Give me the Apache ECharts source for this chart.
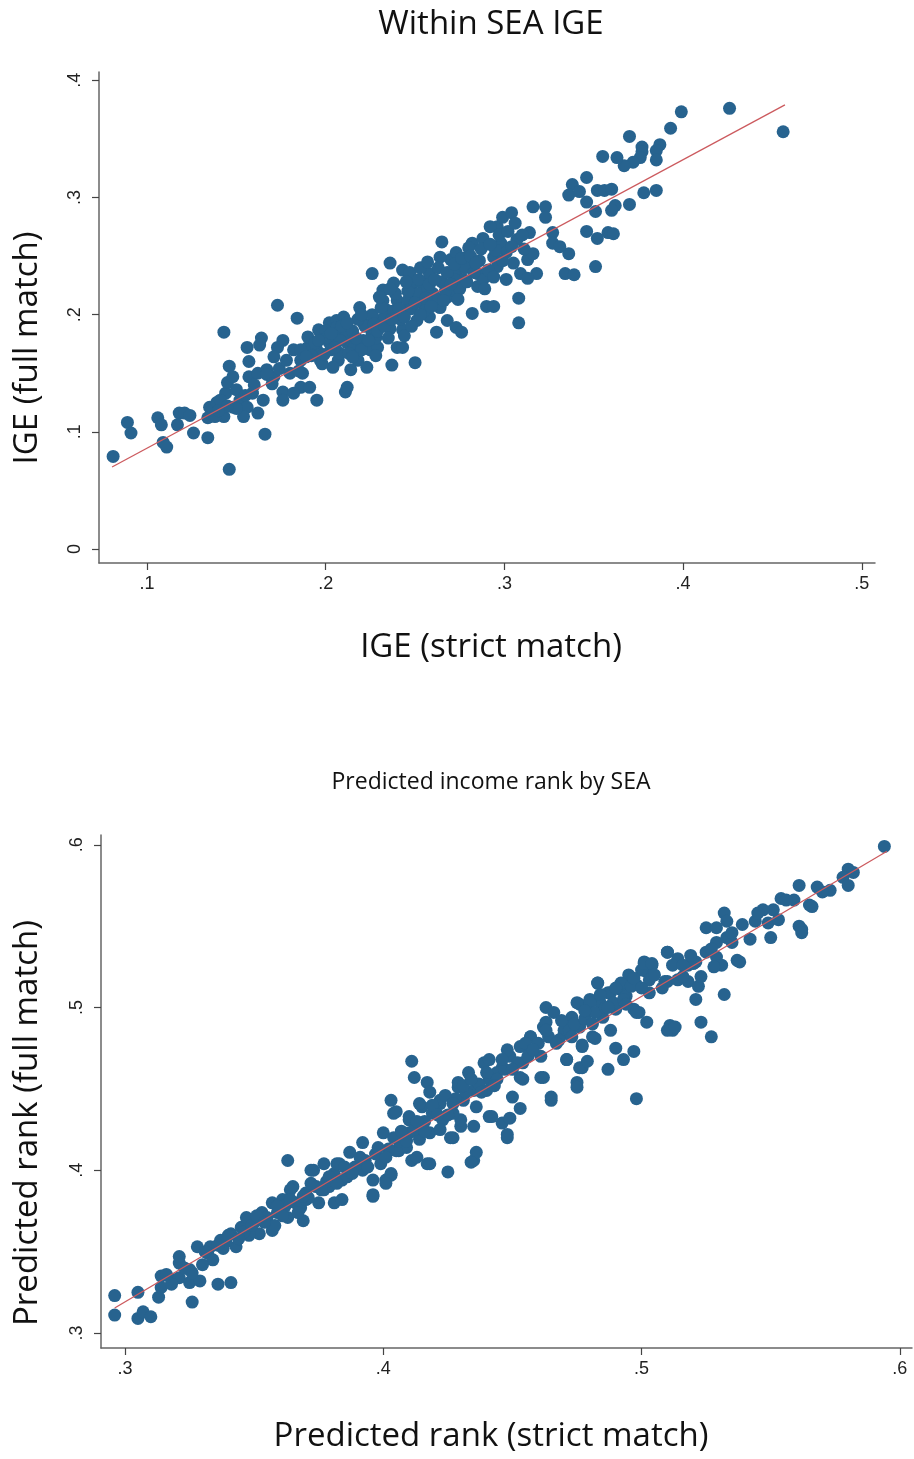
<!DOCTYPE html>
<html>
<head>
<meta charset="utf-8">
<title>SEA IGE scatter</title>
<script src="https://cdn.jsdelivr.net/npm/echarts@6/dist/echarts.min.js"></script>
<style>
  html, body { margin: 0; padding: 0; background: #fff; }
  #main { width: 914px; height: 1459px; }
</style>
</head>
<body>
<div id="main"></div>
<script>
// top panel: IGE, strict vs full match
var igeTicksX = [0.1, 0.2, 0.3, 0.4, 0.5];
var igeTicksY = [0, 0.1, 0.2, 0.3, 0.4];
var igeFit = [[0.0804, 0.070], [0.457, 0.379]];
var igePoints = [
  [0.081,0.079],[0.089,0.108],[0.091,0.099],[0.106,0.112],[0.108,0.106],[0.109,0.091],[0.111,0.087],
  [0.118,0.116],[0.121,0.116],[0.124,0.114],[0.117,0.106],[0.126,0.099],[0.134,0.095],[0.143,0.113],
  [0.146,0.068],[0.166,0.098],[0.173,0.208],[0.184,0.197],[0.143,0.185],[0.164,0.180],[0.163,0.174],
  [0.156,0.172],[0.176,0.178],[0.173,0.172],[0.157,0.160],[0.146,0.156],[0.171,0.164],[0.195,0.127],
  [0.211,0.134],[0.135,0.121],[0.139,0.125],[0.134,0.112],[0.138,0.113],[0.144,0.133],[0.145,0.142],
  [0.148,0.147],[0.150,0.136],[0.152,0.127],[0.156,0.121],[0.162,0.116],[0.165,0.127],[0.159,0.133],
  [0.157,0.147],[0.162,0.150],[0.167,0.153],[0.171,0.147],[0.174,0.154],[0.178,0.161],[0.182,0.170],
  [0.186,0.161],[0.190,0.172],[0.190,0.181],[0.195,0.170],[0.197,0.161],[0.202,0.176],[0.202,0.193],
  [0.206,0.195],[0.208,0.184],[0.212,0.176],[0.207,0.161],[0.212,0.138],[0.176,0.134],[0.176,0.127],
  [0.186,0.138],[0.191,0.138],[0.182,0.133],[0.148,0.121],[0.154,0.113],[0.141,0.127],[0.167,0.149],
  [0.187,0.150],[0.196,0.187],[0.206,0.189],[0.210,0.198],[0.214,0.178],[0.208,0.167],[0.218,0.161],
  [0.225,0.170],[0.226,0.184],[0.221,0.193],[0.230,0.195],[0.234,0.204],[0.232,0.221],[0.238,0.227],
  [0.240,0.212],[0.245,0.204],[0.243,0.187],[0.251,0.195],[0.249,0.227],[0.254,0.227],[0.258,0.235],
  [0.260,0.218],[0.264,0.206],[0.268,0.215],[0.258,0.198],[0.268,0.195],[0.273,0.189],[0.271,0.221],
  [0.273,0.235],[0.270,0.247],[0.273,0.253],[0.279,0.249],[0.281,0.241],[0.285,0.235],[0.277,0.230],
  [0.285,0.224],[0.288,0.230],[0.282,0.261],[0.288,0.265],[0.294,0.249],[0.296,0.241],[0.298,0.261],
  [0.301,0.253],[0.296,0.275],[0.307,0.264],[0.305,0.244],[0.309,0.235],[0.301,0.230],[0.313,0.247],
  [0.236,0.244],[0.243,0.238],[0.226,0.235],[0.232,0.212],[0.249,0.218],[0.221,0.178],[0.229,0.172],
  [0.240,0.172],[0.204,0.155],[0.214,0.153],[0.223,0.155],[0.219,0.206],[0.264,0.249],[0.254,0.210],
  [0.243,0.172],[0.308,0.214],[0.308,0.193],[0.290,0.207],[0.294,0.207],[0.282,0.201],[0.280,0.257],
  [0.265,0.262],[0.299,0.283],[0.304,0.287],[0.292,0.275],[0.237,0.157],[0.250,0.159],[0.276,0.185],
  [0.262,0.185],[0.247,0.236],[0.253,0.240],
  [0.399,0.373],[0.426,0.376],[0.456,0.356],[0.393,0.359],[0.370,0.352],[0.377,0.343],[0.377,0.339],
  [0.387,0.345],[0.385,0.340],[0.385,0.332],[0.376,0.334],[0.372,0.330],[0.367,0.327],[0.363,0.334],
  [0.355,0.335],[0.346,0.317],[0.338,0.311],[0.336,0.302],[0.342,0.305],[0.346,0.296],[0.352,0.306],
  [0.356,0.306],[0.360,0.307],[0.378,0.304],[0.385,0.306],[0.370,0.294],[0.362,0.293],[0.360,0.289],
  [0.351,0.288],[0.346,0.271],[0.352,0.265],[0.358,0.270],[0.361,0.269],[0.351,0.241],[0.336,0.252],
  [0.334,0.235],[0.339,0.234],[0.327,0.270],[0.327,0.261],[0.331,0.258],[0.316,0.292],[0.323,0.292],
  [0.323,0.283],[0.314,0.270],[0.316,0.252],[0.318,0.235],[0.313,0.231],
  [0.192,0.165],[0.198,0.158],[0.203,0.170],[0.212,0.183],[0.216,0.172],[0.222,0.190],[0.228,0.180],
  [0.233,0.198],[0.236,0.188],[0.238,0.203],[0.242,0.196],[0.246,0.212],[0.248,0.205],[0.252,0.218],
  [0.255,0.203],[0.257,0.222],[0.262,0.214],[0.265,0.228],[0.267,0.220],[0.272,0.230],[0.275,0.222],
  [0.278,0.240],[0.283,0.236],[0.286,0.246],[0.291,0.238],[0.295,0.255],[0.226,0.200],[0.231,0.206],
  [0.244,0.182],[0.218,0.196],[0.208,0.178],[0.200,0.186],[0.186,0.170],[0.180,0.150],[0.170,0.141],
  [0.160,0.140],[0.155,0.131],[0.150,0.120],[0.145,0.122],[0.140,0.118],
  [0.185,0.152],[0.189,0.164],[0.194,0.176],[0.199,0.166],[0.201,0.181],[0.205,0.172],[0.209,0.190],
  [0.213,0.167],[0.215,0.186],[0.217,0.180],[0.220,0.170],[0.224,0.178],[0.227,0.192],[0.229,0.186],
  [0.233,0.190],[0.235,0.180],[0.237,0.196],[0.239,0.218],[0.241,0.205],[0.244,0.198],[0.246,0.220],
  [0.248,0.190],[0.250,0.210],[0.252,0.230],[0.253,0.200],[0.256,0.214],[0.258,0.226],[0.259,0.207],
  [0.261,0.230],[0.263,0.240],[0.266,0.212],[0.268,0.236],[0.270,0.226],[0.272,0.243],[0.274,0.213],
  [0.276,0.248],[0.279,0.228],[0.281,0.250],[0.284,0.244],[0.287,0.256],[0.289,0.222],[0.292,0.260],
  [0.294,0.232],[0.297,0.268],[0.299,0.246],[0.302,0.271],[0.304,0.258],[0.306,0.278],[0.310,0.268],
  [0.311,0.256],[0.230,0.215],[0.220,0.200],[0.212,0.193],[0.203,0.184],[0.196,0.178],[0.236,0.222],
  [0.245,0.228],[0.257,0.245],[0.215,0.164],[0.228,0.165]
];

// bottom panel: predicted income rank
var rankTicksX = [0.3, 0.4, 0.5, 0.6];
var rankTicksY = [0.3, 0.4, 0.5, 0.6];
var rankFit = [[0.296, 0.3154], [0.595, 0.596]];
var rankPoints = [
  [0.296,0.323],[0.296,0.311],[0.305,0.309],[0.307,0.313],[0.310,0.310],[0.305,0.325],[0.313,0.322],
  [0.314,0.328],[0.314,0.335],[0.318,0.333],[0.321,0.334],[0.326,0.319],[0.325,0.331],[0.329,0.332],
  [0.336,0.330],[0.341,0.331],[0.321,0.343],[0.321,0.347],[0.325,0.339],[0.328,0.353],[0.332,0.349],
  [0.334,0.345],[0.337,0.357],[0.341,0.361],[0.343,0.353],[0.345,0.365],[0.350,0.368],[0.353,0.374],
  [0.357,0.380],[0.361,0.382],[0.352,0.361],[0.357,0.363],[0.363,0.371],[0.369,0.369],[0.365,0.390],
  [0.370,0.386],[0.373,0.400],[0.363,0.406],[0.377,0.404],[0.381,0.398],[0.381,0.380],[0.375,0.380],
  [0.368,0.377],[0.360,0.374],[0.348,0.360],[0.347,0.371],[0.339,0.356],[0.333,0.353],
  [0.403,0.443],[0.404,0.435],[0.411,0.406],[0.417,0.404],[0.425,0.399],[0.435,0.406],[0.436,0.411],
  [0.396,0.384],[0.401,0.394],[0.403,0.397],[0.396,0.394],[0.406,0.412],[0.409,0.414],[0.414,0.419],
  [0.427,0.420],[0.430,0.427],[0.435,0.427],[0.441,0.433],[0.446,0.429],[0.448,0.420],[0.415,0.439],
  [0.422,0.443],[0.429,0.451],[0.415,0.427],[0.410,0.431],[0.400,0.423],[0.392,0.417],[0.387,0.411],
  [0.383,0.404],[0.372,0.400],[0.364,0.388],[0.359,0.374],[0.384,0.382],[0.399,0.404],[0.392,0.400],
  [0.387,0.398],[0.377,0.388],[0.370,0.382],[0.436,0.439],[0.423,0.431],[0.418,0.423],[0.410,0.423],
  [0.411,0.467],[0.412,0.457],[0.417,0.454],[0.405,0.436],[0.410,0.433],[0.414,0.441],[0.418,0.448],
  [0.422,0.441],[0.429,0.454],[0.433,0.460],[0.435,0.449],[0.430,0.431],[0.426,0.420],[0.422,0.425],
  [0.439,0.466],[0.441,0.456],[0.446,0.463],[0.449,0.470],[0.453,0.476],[0.457,0.482],[0.462,0.488],
  [0.470,0.484],[0.476,0.488],[0.454,0.456],[0.450,0.445],[0.453,0.438],[0.442,0.433],[0.449,0.432],
  [0.448,0.422],[0.462,0.457],[0.465,0.443],[0.471,0.468],[0.475,0.454],[0.477,0.476],[0.477,0.463],
  [0.434,0.405],[0.418,0.404],[0.413,0.408],[0.403,0.398],[0.401,0.392],[0.396,0.385],[0.405,0.412],
  [0.382,0.404],[0.384,0.394],[0.379,0.390],[0.414,0.422],[0.419,0.435],[0.427,0.435],[0.431,0.443],
  [0.594,0.599],[0.580,0.585],[0.582,0.583],[0.578,0.580],[0.580,0.575],[0.573,0.572],[0.570,0.571],
  [0.561,0.575],[0.559,0.566],[0.554,0.567],[0.565,0.563],[0.566,0.562],[0.561,0.550],[0.562,0.548],
  [0.562,0.546],[0.551,0.560],[0.547,0.560],[0.549,0.552],[0.553,0.554],[0.550,0.543],[0.542,0.542],
  [0.539,0.551],[0.544,0.553],[0.532,0.558],[0.533,0.553],[0.525,0.549],[0.529,0.549],[0.529,0.540],
  [0.533,0.543],[0.535,0.540],[0.525,0.534],[0.529,0.531],[0.531,0.526],[0.528,0.525],[0.537,0.529],
  [0.538,0.528],[0.510,0.534],[0.514,0.530],[0.518,0.526],[0.521,0.528],[0.512,0.526],[0.501,0.528],
  [0.504,0.526],[0.502,0.522],[0.500,0.523],[0.495,0.520],[0.496,0.516],[0.498,0.514],[0.503,0.517],
  [0.503,0.509],[0.510,0.516],[0.514,0.517],[0.518,0.516],[0.522,0.513],[0.521,0.505],[0.532,0.508],
  [0.483,0.515],[0.488,0.509],[0.492,0.511],[0.494,0.507],[0.484,0.503],[0.480,0.505],[0.476,0.502],
  [0.473,0.494],[0.479,0.497],[0.485,0.494],[0.497,0.499],[0.499,0.497],[0.502,0.491],[0.511,0.489],
  [0.512,0.486],[0.523,0.491],[0.488,0.486],[0.527,0.482],[0.481,0.482],[0.470,0.491],
  [0.461,0.457],[0.471,0.468],[0.476,0.463],[0.479,0.467],[0.487,0.462],[0.490,0.475],[0.493,0.468],
  [0.497,0.473],[0.510,0.486],[0.513,0.488],[0.475,0.451],[0.477,0.477],[0.482,0.481],[0.465,0.445],
  [0.498,0.444],[0.453,0.457],[0.440,0.449],[0.441,0.468],[0.448,0.474],[0.457,0.482],[0.463,0.491],
  [0.463,0.500],[0.466,0.497],[0.475,0.503],[0.480,0.503],[0.483,0.515],[0.487,0.509],[0.492,0.515],
  [0.496,0.513],[0.501,0.527],[0.504,0.527],[0.510,0.534],[0.520,0.527],[0.523,0.519],[0.516,0.519],
  [0.509,0.516],[0.498,0.497],[0.490,0.499],[0.470,0.486],[0.457,0.474],[0.444,0.460],[0.454,0.466],
  [0.461,0.470],
  [0.355,0.371],[0.358,0.366],[0.362,0.378],[0.366,0.380],[0.371,0.383],[0.374,0.390],[0.378,0.393],
  [0.386,0.396],[0.389,0.402],[0.393,0.406],[0.397,0.410],[0.402,0.413],[0.406,0.418],[0.412,0.425],
  [0.416,0.430],[0.420,0.437],[0.425,0.434],[0.428,0.444],[0.432,0.448],[0.437,0.453],[0.444,0.456],
  [0.447,0.462],[0.452,0.466],[0.456,0.470],[0.460,0.478],[0.464,0.482],[0.468,0.480],[0.472,0.486],
  [0.474,0.490],[0.478,0.493],[0.482,0.497],[0.486,0.500],[0.489,0.503],[0.493,0.505],[0.346,0.362],
  [0.338,0.352],[0.330,0.342],[0.326,0.337],[0.318,0.330],
  [0.316,0.336],[0.323,0.340],[0.331,0.350],[0.336,0.354],[0.340,0.360],[0.344,0.358],[0.349,0.366],
  [0.351,0.372],[0.354,0.368],[0.359,0.378],[0.361,0.372],[0.364,0.382],[0.367,0.374],[0.369,0.384],
  [0.372,0.392],[0.376,0.388],[0.379,0.396],[0.382,0.392],[0.385,0.402],[0.388,0.398],[0.391,0.408],
  [0.394,0.402],[0.398,0.414],[0.401,0.408],[0.404,0.420],[0.407,0.424],[0.409,0.418],[0.413,0.430],
  [0.416,0.424],[0.419,0.440],[0.421,0.434],[0.424,0.446],[0.427,0.441],[0.431,0.452],[0.434,0.456],
  [0.438,0.448],[0.440,0.460],[0.443,0.452],[0.446,0.468],[0.450,0.462],[0.455,0.478],[0.458,0.474],
  [0.463,0.486],[0.467,0.478],[0.469,0.492],[0.473,0.482],[0.478,0.498],[0.481,0.490],[0.484,0.508],
  [0.487,0.500],[0.490,0.512],[0.494,0.502],[0.497,0.518],[0.500,0.512],[0.505,0.520],[0.508,0.512],
  [0.516,0.526],[0.519,0.532],[0.527,0.536],[0.535,0.546],[0.545,0.558],[0.556,0.566],[0.568,0.574]
];

var dotColor = '#27638f';
var fitColor = '#cc5a5e';
var tickFont = 'Liberation Sans, Arial, sans-serif';
var titleFont = 'Open Sans, sans-serif';

function stataLabel(v) {
  if (Math.abs(v) < 1e-9) return '0';
  return (Math.round(v * 10) / 10).toString().replace(/^0/, '');
}

function makeAxis(idx, min, max, ticks, isY) {
  return {
    type: 'value',
    gridIndex: idx,
    min: min,
    max: max,
    splitLine: { show: false },
    axisLine: { show: true, onZero: false, lineStyle: { color: '#666', width: 1.5 } },
    axisTick: { show: true, length: 7, customValues: ticks, lineStyle: { color: '#444', width: 1.2 } },
    axisLabel: {
      customValues: ticks,
      formatter: stataLabel,
      rotate: isY ? 90 : 0,
      margin: isY ? 15 : 12,
      color: '#222',
      fontSize: 18,
      fontFamily: tickFont
    }
  };
}

function label(text, x, y, size, vertical) {
  return {
    type: 'text', x: x, y: y, rotation: vertical ? Math.PI / 2 : 0,
    style: { text: text, font: size + 'px ' + titleFont, fill: '#111', textAlign: 'center', textVerticalAlign: 'middle' }
  };
}

var chart = echarts.init(document.getElementById('main'), null, { renderer: 'canvas' });
chart.setOption({
  animation: false,
  backgroundColor: '#fff',
  grid: [
    { left: 99, top: 72, width: 776, height: 491 },
    { left: 101, top: 835, width: 811, height: 513 }
  ],
  xAxis: [
    makeAxis(0, 0.0731, 0.5074, igeTicksX, false),
    makeAxis(1, 0.2907, 0.6047, rankTicksX, false)
  ],
  yAxis: [
    makeAxis(0, -0.0119, 0.407, igeTicksY, true),
    makeAxis(1, 0.2908, 0.606, rankTicksY, true)
  ],
  graphic: [
    label('Within SEA IGE', 491, 25, 33, false),
    label('IGE (strict match)', 491, 648, 33, false),
    label('IGE (full match)', 28, 348, 33, true),
    label('Predicted income rank by SEA', 491, 782, 23, false),
    label('Predicted rank (strict match)', 491, 1437, 33, false),
    label('Predicted rank (full match)', 28, 1123, 33, true)
  ],
  series: [
    { type: 'scatter', xAxisIndex: 0, yAxisIndex: 0, data: igePoints, symbolSize: 13, itemStyle: { color: dotColor, opacity: 1 } },
    { type: 'line', xAxisIndex: 0, yAxisIndex: 0, data: igeFit, symbol: 'none', z: 5, lineStyle: { color: fitColor, width: 1.3 } },
    { type: 'scatter', xAxisIndex: 1, yAxisIndex: 1, data: rankPoints, symbolSize: 13, itemStyle: { color: dotColor, opacity: 1 } },
    { type: 'line', xAxisIndex: 1, yAxisIndex: 1, data: rankFit, symbol: 'none', z: 5, lineStyle: { color: fitColor, width: 1.3 } }
  ]
});
</script>
</body>
</html>
